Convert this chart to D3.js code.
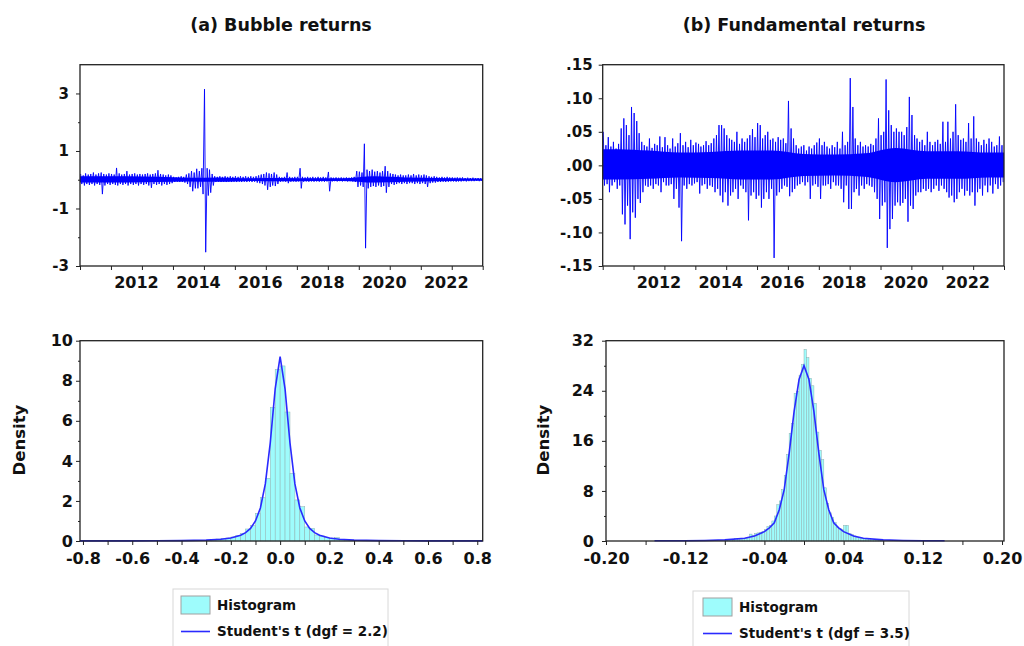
<!DOCTYPE html>
<html lang="en">
<head>
<meta charset="UTF-8">
<link rel="icon" href="data:,">
<script src="https://unpkg.com/d3@7.8.5/dist/d3.min.js"></script>
<style>
body {
  margin: 0;
  background: #fff;
}
svg text {
  font-family: "DejaVu Sans", sans-serif;
  font-weight: bold;
  fill: #111;
}
</style>
</head>
<body>
<svg id="view"></svg>
<script>
// ---- data ----
// monthly extremes of the daily returns, Jan 2010 .. Dec 2022 (one row per year)
const bubbleHi = [
  .20, .15, .22, .18, .20, .25, .18, .22, .25, .20, .18, .22,
  .20, .18, .41, .22, .18, .20, .30, .18, .20, .22, .18, .20,
  .18, .20, .22, .18, .20, .22, .33, .20, .18, .15, .18, .15,
  .10, .08, .10, .12, .10, .18, .22, .30, .25, .38, .30, .40,
  3.15, .40, .35, .20, .12, .10, .12, .10, .12, .10, .12, .10,
  .12, .10, .12, .10, .12, .10, .12, .10, .12, .15, .18, .20,
  .25, .22, .20, .25, .18, .10, .08, .10, .25, .10, .08, .10,
  .10, .40, .10, .08, .10, .08, .10, .08, .10, .08, .10, .08,
  .27, .08, .07, .08, .07, .08, .07, .08, .07, .08, .10, .30,
  .28, .25, 1.25, .35, .30, .35, .28, .30, .25, .30, .47, .30,
  .22, .20, .18, .15, .18, .15, .15, .18, .15, .20, .15, .18,
  .15, .18, .15, .12, .10, .12, .10, .08, .10, .08, .10, .08,
  .08, .07, .08, .07, .08, .06, .07, .06, .07, .06, .06, .05
];
const bubbleLo = [
  -.15, -.20, -.15, -.18, -.15, -.20, -.15, -.18, -.50, -.20, -.15, -.18,
  -.15, -.18, -.20, -.15, -.18, -.15, -.20, -.15, -.18, -.15, -.20, -.15,
  -.18, -.15, -.20, -.28, -.15, -.18, -.15, -.20, -.15, -.18, -.15, -.12,
  -.08, -.07, -.08, -.08, -.10, -.15, -.25, -.40, -.30, -.30, -.25, -.50,
  -2.52, -.55, -.45, -.20, -.08, -.07, -.08, -.07, -.08, -.07, -.08, -.07,
  -.08, -.07, -.08, -.07, -.08, -.07, -.08, -.07, -.10, -.12, -.15, -.20,
  -.35, -.25, -.20, -.22, -.15, -.07, -.06, -.07, -.12, -.07, -.06, -.07,
  -.06, -.30, -.07, -.06, -.07, -.06, -.07, -.06, -.07, -.06, -.07, -.06,
  -.40, -.06, -.05, -.06, -.05, -.06, -.05, -.06, -.05, -.06, -.08, -.25,
  -.20, -.25, -2.38, -.30, -.25, -.22, -.25, -.20, -.25, -.22, -.45, -.25,
  -.15, -.18, -.15, -.12, -.15, -.12, -.15, -.12, -.12, -.15, -.12, -.15,
  -.12, -.15, -.25, -.12, -.10, -.10, -.08, -.08, -.07, -.08, -.07, -.06,
  -.06, -.07, -.06, -.06, -.05, -.06, -.05, -.05, -.05, -.04, -.05, -.04
];
const fundHi = [
  .050, .030, .042, .028, .035, .025, .032, .055, .070, .060, .045, .087,
  .078, .066, .048, .035, .030, .028, .040, .026, .032, .030, .043, .027,
  .042, .030, .025, .040, .028, .033, .048, .030, .035, .027, .038, .030,
  .034, .032, .028, .030, .036, .030, .033, .040, .045, .060, .060, .055,
  .045, .040, .038, .035, .050, .032, .040, .035, .040, .045, .054, .042,
  .063, .060, .040, .045, .050, .038, .040, .035, .042, .038, .040, .033,
  .096, .055, .040, .030, .025, .028, .030, .022, .028, .025, .030, .034,
  .040, .030, .035, .028, .025, .030, .027, .035, .025, .050, .030, .035,
  .130, .087, .040, .030, .035, .028, .030, .028, .032, .030, .040, .070,
  .045, .050, .128, .082, .060, .050, .055, .050, .050, .045, .057, .102,
  .075, .045, .040, .035, .038, .030, .050, .035, .030, .035, .038, .032,
  .065, .035, .065, .040, .050, .091, .045, .038, .040, .035, .063, .040,
  .073, .040, .035, .030, .038, .032, .040, .035, .028, .030, .043, .030
];
const fundLo = [
  -.030, -.028, -.040, -.030, -.025, -.035, -.030, -.073, -.088, -.060, -.110, -.070,
  -.078, -.050, -.056, -.040, -.030, -.032, -.030, -.035, -.028, -.030, -.040, -.025,
  -.030, -.030, -.028, -.050, -.035, -.063, -.113, -.030, -.035, -.028, -.030, -.027,
  -.025, -.042, -.030, -.028, -.035, -.030, -.032, -.040, -.035, -.045, -.055, -.040,
  -.060, -.045, -.040, -.035, -.050, -.030, -.035, -.040, -.082, -.045, -.040, -.050,
  -.045, -.063, -.050, -.040, -.050, -.035, -.138, -.045, -.040, -.035, -.030, -.032,
  -.046, -.040, -.035, -.030, -.028, -.025, -.030, -.025, -.050, -.030, -.028, -.032,
  -.050, -.030, -.030, -.028, -.035, -.025, -.030, -.030, -.035, -.055, -.030, -.065,
  -.065, -.040, -.035, -.045, -.030, -.035, -.028, -.030, -.032, -.040, -.050, -.080,
  -.060, -.055, -.123, -.095, -.080, -.060, -.055, -.060, -.056, -.050, -.084, -.060,
  -.065, -.045, -.040, -.040, -.035, -.038, -.035, -.040, -.035, -.030, -.038, -.030,
  -.035, -.040, -.048, -.045, -.055, -.050, -.040, -.035, -.045, -.038, -.045, -.040,
  -.060, -.040, -.035, -.045, -.030, -.040, -.030, -.042, -.028, -.035, -.030, -.025
];
// dense core of the series (where the daily line fills solid), one value per year 2010..2022
const bubbleCoreHi = [.12, .12, .10, .07, .08, .05, .06, .05, .05, .12, .08, .06, .04];
const bubbleCoreLo = [-.10, -.10, -.08, -.06, -.07, -.04, -.05, -.04, -.04, -.10, -.07, -.05, -.035];
const fundCoreHi = [.024, .022, .019, .020, .022, .022, .017, .016, .018, .026, .021, .021, .019];
const fundCoreLo = [-.021, -.020, -.018, -.019, -.021, -.021, -.016, -.015, -.017, -.025, -.020, -.020, -.018];

// histograms: first bin edge, bin width, densities
const bubbleBinFrom = -0.30;
const bubbleBinWidth = 0.02;
const bubbleDens = [
  0.03, 0.05, 0.10, 0.12, 0.15, 0.20, 0.27, 0.38, 0.60, 0.77,
  1.38, 2.16, 3.13, 6.67, 8.57, 8.74, 6.44, 3.38, 2.05, 1.71,
  0.70, 0.63, 0.30, 0.25, 0.18, 0.12, 0.17, 0.08, 0.05, 0.04
];
const fundBinFrom = -0.08;
const fundBinWidth = 0.0025;
const fundDens = [
  0.15, 0.10, 0.20, 0.15, 0.40, 0.20, 0.30, 0.35, 0.40, 0.50,
  1.10, 0.90, 1.20, 1.30, 1.40, 1.50, 1.80, 2.30, 2.50, 3.20,
  4.00, 5.80, 6.40, 8.20, 10.5, 13.8, 17.2, 18.8, 23.6, 23.9,
  26.5, 28.2, 30.6, 29.3, 26.0, 24.8, 22.0, 17.4, 14.5, 13.0,
  8.50, 6.00, 4.50, 3.80, 3.00, 2.20, 2.00, 1.80, 2.50, 2.50,
  1.20, 1.00, 0.80, 0.60, 0.50, 0.40, 0.35, 0.30, 0.25, 0.20,
  0.20, 0.15, 0.10, 0.10
];

// fitted Student's t densities
const bubbleTX = [-0.812, -0.6, -0.5, -0.4, -0.3, -0.24, -0.2, -0.16, -0.14, -0.12, -0.1, -0.08, -0.06, -0.04, -0.02,
                  0, 0.02, 0.04, 0.06, 0.08, 0.1, 0.12, 0.14, 0.16, 0.2, 0.24, 0.3, 0.4, 0.5, 0.6, 0.822];
const bubbleTY = [0.005, 0.008, 0.012, 0.02, 0.045, 0.09, 0.15, 0.29, 0.42, 0.63, 1.0, 1.65, 2.85, 4.9, 7.6,
                  9.2, 7.6, 4.9, 2.85, 1.65, 1.0, 0.63, 0.42, 0.29, 0.15, 0.09, 0.045, 0.02, 0.012, 0.008, 0.005];
const fundTX = [-0.151, -0.12, -0.1, -0.08, -0.06, -0.05, -0.04, -0.035, -0.03, -0.025, -0.02, -0.015, -0.01, -0.005,
                0, 0.005, 0.01, 0.015, 0.02, 0.025, 0.03, 0.035, 0.04, 0.05, 0.06, 0.08, 0.1, 0.12, 0.142];
const fundTY = [0.03, 0.05, 0.09, 0.18, 0.45, 0.8, 1.5, 2.1, 2.9, 5.0, 8.2, 14.0, 20.7, 25.8,
                28.0, 25.8, 20.7, 14.0, 8.2, 5.0, 2.9, 2.1, 1.5, 0.8, 0.45, 0.18, 0.09, 0.05, 0.03];

// ticks and labels
const yearTicks = d3.range(2010, 2024);
const yearLabels = [2012, 2014, 2016, 2018, 2020, 2022];
const bubbleYTicks = [-3, -1, 1, 3];
const bubbleYMinor = [-2, 0, 2];
const fundYTicks = [-0.15, -0.10, -0.05, 0, 0.05, 0.10, 0.15];
const bubbleHistXTicks = [-0.8, -0.7, -0.6, -0.5, -0.4, -0.3, -0.2, -0.1, 0, 0.1, 0.2, 0.3, 0.4, 0.5, 0.6, 0.7, 0.8];
const bubbleHistXLabels = [-0.8, -0.6, -0.4, -0.2, 0, 0.2, 0.4, 0.6, 0.8];
const bubbleHistYTicks = [0, 2, 4, 6, 8, 10];
const bubbleHistYMinor = [1, 3, 5, 7, 9];
const fundHistXTicks = [-0.20, -0.16, -0.12, -0.08, -0.04, 0, 0.04, 0.08, 0.12, 0.16, 0.20];
const fundHistXLabels = [-0.20, -0.12, -0.04, 0.04, 0.12, 0.20];
const fundHistYTicks = [0, 8, 16, 24, 32];
const fundHistYMinor = [4, 12, 20, 28];

const titles = ["(a) Bubble returns", "(b) Fundamental returns"];
const legendLabels = ["Student's t (dgf = 2.2)", "Student's t (dgf = 3.5)"];

// ---- drawing ----
const LINE_BLUE = "#0000ff";
const T_BLUE = "#2a2aff";
const HIST_FILL = "#9efcfc";
const HIST_EDGE = "#8fb0b0";

const svg = d3.select("svg#view").attr("width", 1024).attr("height", 646);
svg.append("rect").attr("width", 1024).attr("height", 646).attr("fill", "#fff");

const boxTL = {left: 80, right: 482.7, top: 64.7, bottom: 266};
const boxTR = {left: 602.7, right: 1004, top: 64.7, bottom: 266};
const boxBL = {left: 80, right: 482.7, top: 340.7, bottom: 541};
const boxBR = {left: 606, right: 1004, top: 340.7, bottom: 541};

function signed(fmt){
    return d => (d < 0 ? "-" : "") + fmt(Math.abs(d));
}
const fmtDot2 = signed(v => v.toFixed(2).replace(/^0/, ""));
const fmt1 = signed(v => v.toFixed(1));
const fmt2 = signed(v => v.toFixed(2));

function cleanAxis(g, size){
    g.attr("font-family", null).attr("font-size", null);
    g.select(".domain").remove();
    g.selectAll(".tick line").attr("stroke", "#222");
    g.selectAll(".tick text").style("font-size", `${size}px`);
}

function drawFrame(box){
    svg.append("rect")
       .attr("x", box.left).attr("y", box.top)
       .attr("width", box.right - box.left).attr("height", box.bottom - box.top)
       .attr("fill", "none").attr("stroke", "#222").attr("stroke-width", 1.3);
}

// two observations a month: the high, then the low
function monthlyPoints(hi, lo){
    let pts = [];
    for(let m=0; m<hi.length; m++){
        pts.push({t: new Date(2010, m, 8), v: hi[m]});
        pts.push({t: new Date(2010, m, 22), v: lo[m]});
    }
    return pts;
}

function corePoints(hi, lo){
    let pts = hi.map((h, i) => ({t: new Date(2010 + i, 6, 1), hi: h, lo: lo[i]}));
    pts.unshift({t: new Date(2010, 0, 1), hi: hi[0], lo: lo[0]});
    pts.push({t: new Date(2023, 0, 1), hi: hi[hi.length-1], lo: lo[lo.length-1]});
    return pts;
}

function yearAxis(box, x){
    const g = svg.append("g").attr("transform", `translate(0,${box.bottom})`)
        .call(d3.axisBottom(x)
            .tickValues(yearTicks.map(y => new Date(y, 0, 1)))
            .tickSize(4).tickPadding(7)
            .tickFormat(d => yearLabels.includes(d.getFullYear()) ? d.getFullYear() : ""));
    cleanAxis(g, 16);
    g.selectAll(".tick text").attr("dx", -6);
}

function leftAxis(box, y, major, minor, fmt, pad, size){
    const g = svg.append("g").attr("transform", `translate(${box.left},0)`)
        .call(d3.axisLeft(y).tickValues(major).tickSize(4).tickPadding(pad).tickFormat(fmt));
    cleanAxis(g, size);
    if(minor){
        const gm = svg.append("g").attr("transform", `translate(${box.left},0)`)
            .call(d3.axisLeft(y).tickValues(minor).tickSize(2).tickFormat(""));
        cleanAxis(gm, size);
    }
}

function drawSeries(box, hi, lo, coreHi, coreLo, yDomain, major, minor, fmt, pad){
    const x = d3.scaleTime().domain([new Date(2010, 0, 1), new Date(2023, 0, 1)]).range([box.left, box.right]);
    const y = d3.scaleLinear().domain(yDomain).range([box.bottom, box.top]);
    svg.append("path").datum(corePoints(coreHi, coreLo))
       .attr("fill", LINE_BLUE).attr("stroke", "none")
       .attr("d", d3.area().curve(d3.curveMonotoneX).x(d => x(d.t)).y0(d => y(d.lo)).y1(d => y(d.hi)));
    svg.append("path").datum(monthlyPoints(hi, lo))
       .attr("fill", "none").attr("stroke", LINE_BLUE).attr("stroke-width", 0.9)
       .attr("d", d3.line().x(d => x(d.t)).y(d => y(d.v)));
    yearAxis(box, x);
    leftAxis(box, y, major, minor, fmt, pad, 15);
    drawFrame(box);
}

function drawHist(box, xDomain, yDomain, binFrom, binWidth, dens, tx, ty, xTicks, xLabels, fmtX, yTicks, yMinor, pad, xPad){
    const x = d3.scaleLinear().domain(xDomain).range([box.left, box.right]);
    const y = d3.scaleLinear().domain(yDomain).range([box.bottom, box.top]);
    const bins = dens.map((d, i) => ({x0: binFrom + i*binWidth, x1: binFrom + (i+1)*binWidth, d: d}));
    svg.append("g").selectAll("rect").data(bins).enter().append("rect")
       .attr("x", b => x(b.x0)).attr("width", b => x(b.x1) - x(b.x0))
       .attr("y", b => y(b.d)).attr("height", b => y(0) - y(b.d))
       .attr("fill", HIST_FILL).attr("stroke", HIST_EDGE).attr("stroke-width", 0.5);
    const curve = tx.map((v, i) => [v, ty[i]]);
    svg.append("path").datum(curve)
       .attr("fill", "none").attr("stroke", T_BLUE).attr("stroke-width", 1.6)
       .attr("d", d3.line().x(d => x(d[0])).y(d => y(d[1])));

    const gx = svg.append("g").attr("transform", `translate(0,${box.bottom})`)
        .call(d3.axisBottom(x).tickValues(xTicks).tickSize(4).tickPadding(xPad)
            .tickFormat(d => xLabels.some(l => Math.abs(l - d) < 1e-9) ? fmtX(d) : ""));
    cleanAxis(gx, 16);
    leftAxis(box, y, yTicks, yMinor, d => d, pad, 16);
    drawFrame(box);
}

function drawLegend(x, y, w, sw, label){
    const g = svg.append("g").attr("transform", `translate(${x},${y})`);
    g.append("rect").attr("width", w).attr("height", 66)
     .attr("fill", "#fff").attr("stroke", "#d8d8d8");
    g.append("rect").attr("x", sw).attr("y", 7).attr("width", 29).attr("height", 18)
     .attr("fill", HIST_FILL).attr("stroke", "#a0a0a0");
    g.append("text").attr("x", sw + 36).attr("y", 21).style("font-size", "13.5px").text("Histogram");
    g.append("line").attr("x1", sw).attr("x2", sw + 29).attr("y1", 42.5).attr("y2", 42.5)
     .attr("stroke", T_BLUE).attr("stroke-width", 1.6);
    g.append("text").attr("x", sw + 36).attr("y", 47).style("font-size", "13.5px").text(label);
}

// titles
svg.append("text").attr("x", 281).attr("y", 31).attr("text-anchor", "middle")
   .style("font-size", "17.5px").text(titles[0]);
svg.append("text").attr("x", 804).attr("y", 31).attr("text-anchor", "middle")
   .style("font-size", "17.5px").text(titles[1]);

// top row: return series
drawSeries(boxTL, bubbleHi, bubbleLo, bubbleCoreHi, bubbleCoreLo, [-3, 4], bubbleYTicks, bubbleYMinor, d => d, 7);
drawSeries(boxTR, fundHi, fundLo, fundCoreHi, fundCoreLo, [-0.15, 0.15], fundYTicks, null, fmtDot2, 6);

// bottom row: histograms with fitted densities
drawHist(boxBL, [-0.812, 0.822], [0, 10], bubbleBinFrom, bubbleBinWidth, bubbleDens, bubbleTX, bubbleTY,
         bubbleHistXTicks, bubbleHistXLabels, fmt1, bubbleHistYTicks, bubbleHistYMinor, 3, 8);
drawHist(boxBR, [-0.2, 0.202], [0, 32], fundBinFrom, fundBinWidth, fundDens, fundTX, fundTY,
         fundHistXTicks, fundHistXLabels, fmt2, fundHistYTicks, fundHistYMinor, 8, 8);

// y titles
svg.append("text").attr("transform", "translate(25,440) rotate(-90)").attr("text-anchor", "middle")
   .style("font-size", "16.5px").text("Density");
svg.append("text").attr("transform", "translate(549,440) rotate(-90)").attr("text-anchor", "middle")
   .style("font-size", "16.5px").text("Density");

// legends
drawLegend(173, 589, 215, 8, legendLabels[0]);
drawLegend(693, 591, 216, 10, legendLabels[1]);
</script>
</body>
</html>
